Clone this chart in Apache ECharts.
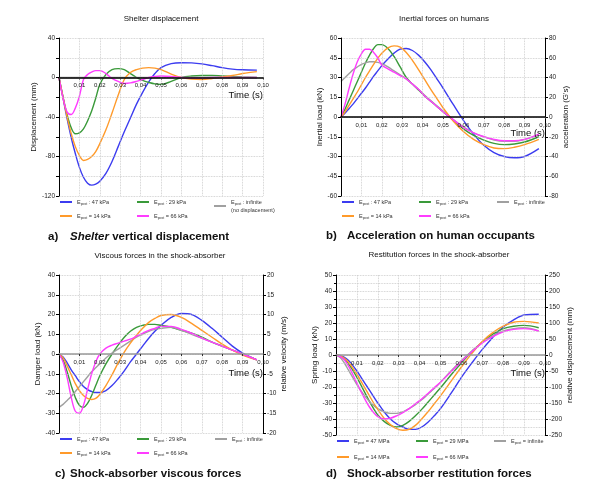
<!DOCTYPE html>
<html><head><meta charset="utf-8">
<script src="https://cdn.jsdelivr.net/npm/echarts@6/dist/echarts.min.js"></script>
<style>html,body{margin:0;padding:0;background:#fff}#c{width:608px;height:492px}</style>
</head><body><div id="c"></div>
<script>
// ---- time samples (s) ----
const times = [0,0.002,0.004,0.006,0.008,0.010,0.012,0.014,0.016,0.018,0.020,0.023,0.026,0.029,0.032,0.035,0.038,0.041,0.044,0.047,0.050,0.055,0.060,0.065,0.070,0.075,0.080,0.085,0.090,0.097];

// ---- a) Shelter displacement (mm) ----
const dispA_47  = [0,-21,-42,-61,-77,-91,-101,-107,-109,-108,-105,-97,-85,-70,-55,-41,-27,-15,-4.5,4,10,14,15,14.8,13.8,12,10,8.5,7.8,7.5];
const dispA_29  = [0,-20,-38,-51,-57,-56,-52,-44,-34,-21,-7,3,8,9,8,4,0,-3,-5,-6.5,-7,-4,0,1.5,2,2,1.5,1,0.5,0];
const dispA_inf = [0,0,0,0,0,0,0,0,0,0,0,0,0,0,0,0,0,0,0,0,0,0,0,0,0,0,0,0,0,0];
const dispA_14  = [0,-20.5,-40,-57,-70,-79,-84,-83,-80,-75,-67,-53,-36,-18,-2,5,8,9.5,10,9.5,8,3.5,0,-1.5,-2,-1,0.5,2,4,6];
const dispA_66  = [0,-21,-35,-37.5,-31,-19,-2,3,5.5,7,7,4,-1,-4,-6,-5.5,-4,-2,0,1,1.5,1,0,-0.5,-0.5,0,0,0,0,0];

// ---- b) Inertial forces on humans (kN) ----
const inertB_47  = [0,3,6.5,10,14,18,22,26.5,31,35,39,44,48.5,51.5,52,50.5,47,42,36,29,22,9.5,-2.5,-13,-21.5,-27,-30,-31,-30,-24];
const inertB_29  = [0,6,13,20,27,34,41,47,52,55,55,52,46,38,30,25,20.5,16,12,8,4,-2.5,-9,-14,-17.5,-20,-21,-20.5,-19,-15];
const inertB_inf = [27,30,33,36,38,40,41,42,42,41.5,40.5,38,35,32,29,25,21,16.5,12.5,8.5,4.5,-2,-7.5,-12,-15,-17.5,-18.5,-18.5,-17,-14];
const inertB_14  = [0,4,9,14,19,24.5,30,35,40,44.5,48.5,52.5,54,53,49,43,36,28.5,21,14,7,-3,-11,-17,-21,-23.5,-24,-23,-21,-17];
const inertB_66  = [0,10,22,33,42,48,51.5,51.5,49,45,39.5,36.5,34,31.5,29,25,21,16,12,8,4,-2,-8,-12,-15,-17,-18,-18,-17,-13];

// ---- c) Viscous forces in the shock-absorber (kN) ----
const viscC_47  = [0,-1.5,-4.5,-8,-11,-14,-16.5,-18,-19,-19.5,-19.5,-18.5,-16,-12.5,-8.5,-4,0,4,8,11.5,14.5,18.5,20.5,20,17,13,8.5,4,0.5,-3];
const viscC_29  = [0,-3,-9,-16,-22,-26,-27,-25,-21,-16,-11,-5,0,4.5,8.5,11.5,13.5,14.5,15,15,14.5,13.5,12,10.5,8.5,6,4,2,0,-3];
const viscC_inf = [-27,-25.5,-23.5,-21.5,-19,-16.5,-14,-11.5,-9,-7,-5,-2,0.5,2.5,4.5,6.5,8.5,10,11.5,12.5,13,13.5,12,10,8,6,4,2,0,-3];
const viscC_14  = [0,-2,-6,-10.5,-15,-18.5,-21,-22.5,-23,-22.5,-20.5,-16,-10.5,-4.5,1,5.5,9.5,13,16,18,19.5,20,18.5,15.5,12,8.5,5,2,-0.5,-3];
const viscC_66  = [0,-4,-12,-22,-29,-30,-26,-18,-10,-4,0,3,4.5,5.5,6.5,7.5,9,10.5,12,13,14,14,12.5,10.5,8,6,4,2,0,-3];

// ---- d) Restitution forces in the shock-absorber (kN) ----
const springD_47  = [0,-0.3,-1.5,-3.5,-6.5,-10,-14,-18,-22,-26,-30,-35.5,-40,-43,-45,-46.5,-46.5,-45,-42,-38,-33.5,-24,-14,-5,3.5,11,17.5,22,25,25.5];
const springD_29  = [0,-0.8,-2.5,-5.5,-9.5,-14,-19,-24,-29,-33.5,-37.5,-41.5,-44,-45,-44,-41.5,-38,-34,-29.5,-25,-20.5,-12.5,-5,2,8,13,16.5,18,18.5,17];
const springD_inf = [0,-1.5,-5,-9.5,-14,-18.5,-22.5,-26,-29,-31.5,-33.5,-35.5,-36.5,-36.5,-35.5,-33.5,-31,-28,-24.5,-21,-17,-10,-3.5,2.5,8,12,15,16.5,17,15];
const springD_14  = [0,-0.5,-2,-4.5,-8,-12,-16.5,-21,-25.5,-30,-34,-39.5,-43.5,-46,-47,-46.5,-44,-40,-35.5,-30.5,-25.5,-16.5,-7.5,1,8.5,14,18,20.5,21,20];
const springD_66  = [0,-1,-3,-7,-12,-17.5,-23,-28,-32.5,-36,-38.5,-40,-39.5,-38,-36,-33.5,-30.5,-27.5,-24,-20.5,-17,-10.5,-4,2,7.5,11.5,14.5,16,16.5,15];

// ---- labels ----
const seriesKeys = ['E47','E29','Einf','E14','E66'];
const legendA = [': 47 kPa', ': 29 kPa', ': infinite', '= 14 kPa', '= 66 kPa'];
const legendB = [': 47 kPa', ': 29 kPa', ': infinite', '= 14 kPa', '= 66 kPa'];
const legendC = [': 47 kPa', ': 29 kPa', ': infinite', '= 14 kPa', '= 66 kPa'];
const legendD = ['= 47 MPa', '= 29 MPa', '= infinite', '= 14 MPa', '= 66 MPa'];
const panelTitles = ['Shelter displacement', 'Inertial forces on humans', 'Viscous forces in the shock-absorber', 'Restitution forces in the shock-absorber'];
const leftNames = ['Displacement (mm)', 'Inertial load (kN)', 'Damper load (kN)', 'Spring load (kN)'];
const rightNames = [null, "acceleration (G's)", 'relative velocity (m/s)', 'relative displacement (mm)'];
const leftRanges = [[-120, 40, 20], [-60, 60, 15], [-40, 40, 10], [-50, 50, 10]];

const FONT = '"Liberation Sans", Arial, sans-serif';
const colors = {E47:'#3c3cf0', E29:'#3a9a3a', Einf:'#a0a0a0', E14:'#ff9a2a', E66:'#ff3cff'};

const panelData = [
  [dispA_47, dispA_29, dispA_inf, dispA_14, dispA_66],
  [inertB_47, inertB_29, inertB_inf, inertB_14, inertB_66],
  [viscC_47, viscC_29, viscC_inf, viscC_14, viscC_66],
  [springD_47, springD_29, springD_inf, springD_14, springD_66]
];
const legendTexts = [legendA, legendB, legendC, legendD];

const grids = [
  {left:59, top:38, width:204, height:158},
  {left:341, top:38, width:204, height:158},
  {left:59, top:275, width:204, height:158},
  {left:336, top:275, width:209, height:160}
];
const timeNamePad = [13, 11, 14, 13];
const zeroColor = ['#000', '#000', '#999', '#999'];

const dotted = {show:true, lineStyle:{type:'dotted', color:'#c4c4c4', width:0.8}};

// x axis drawn through y = 0 of the left axis (offset from grid bottom)
const xAxes = grids.map((g, i) => {
  const r = leftRanges[i];
  const zeroOffset = -(0 - r[0]) / (r[1] - r[0]) * g.height;
  return {
    type:'value', gridIndex:i, min:0, max:0.1, interval:0.01, z:10,
    position:'bottom', offset: zeroOffset,
    axisLine:{show:true, onZero:false, lineStyle:{color:zeroColor[i], width:1.5}},
    axisTick:{show:true, length:2, lineStyle:{color:'#333'}},
    axisLabel:{fontSize:6, margin:5, color:'#222', fontFamily:FONT, showMinLabel:true, showMaxLabel:true,
      formatter: v => v === 0 ? '' : v.toFixed(2).replace('.', ',')},
    splitLine:dotted,
    name:'Time (s)', nameLocation:'end', nameGap:0,
    nameTextStyle:{fontSize:9.5, fontFamily:FONT, color:'#111', align:'right', verticalAlign:'top', padding:[timeNamePad[i],0,0,0]}
  };
});

function yAx(grid, min, max, interval, name, gap, right, fmt, minor) {
  const o = {
    type:'value', gridIndex:grid, min:min, max:max, interval:interval,
    position: right ? 'right' : 'left', z:10,
    axisLine:{show:true, onZero:false, lineStyle:{color:'#000', width:1}},
    axisTick:{show:true, length:3, inside:false, lineStyle:{color:'#000'}},
    axisLabel:{fontSize:6.5, margin:4, color:'#222', fontFamily:FONT, showMinLabel:true, showMaxLabel:true,
      formatter: fmt || (v => String(v))},
    splitLine: right ? {show:false} : dotted,
    name:name, nameLocation:'middle', nameGap:gap,
    nameTextStyle:{fontSize:8, fontFamily:FONT, color:'#111'}
  };
  if (minor) {
    o.minorTick = {show:true, splitNumber:2, length:2};
    o.minorSplitLine = {show:true, lineStyle:{type:'dotted', color:'#c4c4c4', width:0.8}};
  }
  return o;
}
const yAxes = [
  yAx(0, leftRanges[0][0], leftRanges[0][1], leftRanges[0][2], leftNames[0], 20, false, v => (v % 40 === 0 ? String(v) : '')),
  yAx(1, leftRanges[1][0], leftRanges[1][1], leftRanges[1][2], leftNames[1], 17, false),
  yAx(1, -80, 80, 20, rightNames[1], 17, true),
  yAx(2, leftRanges[2][0], leftRanges[2][1], leftRanges[2][2], leftNames[2], 17, false),
  yAx(2, -20, 20, 5, rightNames[2], 17, true),
  yAx(3, leftRanges[3][0], leftRanges[3][1], leftRanges[3][2], leftNames[3], 15, false, null, true),
  yAx(3, -250, 250, 50, rightNames[3], 19, true)
];
const leftY = [0, 1, 3, 5];

const series = [];
panelData.forEach((arrs, p) => {
  arrs.forEach((arr, k) => {
    const key = seriesKeys[k];
    series.push({
      type:'line', name:key, xAxisIndex:p, yAxisIndex:leftY[p],
      data: times.map((t, j) => [t, arr[j]]),
      symbol:'none', showSymbol:false, smooth:0.35,
      lineStyle:{width:1.4, color:colors[key]}, itemStyle:{color:colors[key]},
      z: 3 + k
    });
  });
});

const legendCols = [[60,137,214],[342,419,497],[60,137,215],[337,416,494]];
const legendRows = [[200,214],[200,214],[437,451],[439,455]];
const legends = [];
legendTexts.forEach((txts, p) => {
  seriesKeys.forEach((key, k) => {
    const col = k < 3 ? k : k - 3;
    const row = k < 3 ? 0 : 1;
    let label = '{e|E}{s|post}{t| ' + txts[k] + '}';
    if (p === 0 && k === 2) label += '\n{t|(no displacement)}';
    legends.push({
      data:[{name:key, icon:'rect'}], left:legendCols[p][col], top:legendRows[p][row] - 1,
      itemWidth:12, itemHeight:2, padding:0, selectedMode:false,
      formatter: () => label,
      textStyle:{fontSize:5.5, fontFamily:FONT, color:'#333',
        rich:{e:{fontSize:5.5, color:'#333', lineHeight:8, fontFamily:FONT},
              s:{fontSize:3.5, color:'#333', verticalAlign:'bottom', lineHeight:8, fontFamily:FONT},
              t:{fontSize:5.5, color:'#333', lineHeight:8, fontFamily:FONT}}}
    });
  });
});

const titlePos = [[161,19],[444,19],[160,256],[439,255]];
const graphics = [];
panelTitles.forEach((t, i) => {
  graphics.push({type:'text', x:titlePos[i][0], y:titlePos[i][1],
    style:{text:t, fontSize:8, fontFamily:FONT, fill:'#111', align:'center', verticalAlign:'middle'}});
});
const subLetters = ['a)','b)','c)','d)'];
const subPos = [[48,70,237],[326,347,236],[55,70,474],[326,347,474]];
const subBodies = [null, 'Acceleration on human occupants', 'Shock-absorber viscous forces', 'Shock-absorber restitution forces'];
subLetters.forEach((L, i) => {
  graphics.push({type:'text', x:subPos[i][0], y:subPos[i][2],
    style:{text:L, fontSize:11.5, fontWeight:'bold', fontFamily:FONT, fill:'#111', verticalAlign:'middle'}});
  if (i === 0) {
    graphics.push({type:'text', x:subPos[i][1], y:subPos[i][2],
      style:{text:'{bi|Shelter}{b| vertical displacement}', verticalAlign:'middle', fontFamily:FONT,
        rich:{bi:{fontSize:11.5, fontWeight:'bold', fontStyle:'italic', fontFamily:FONT, fill:'#111'},
              b:{fontSize:11.5, fontWeight:'bold', fontFamily:FONT, fill:'#111'}}}});
  } else {
    graphics.push({type:'text', x:subPos[i][1], y:subPos[i][2],
      style:{text:subBodies[i], fontSize:11.5, fontWeight:'bold', fontFamily:FONT, fill:'#111', verticalAlign:'middle'}});
  }
});

const chart = echarts.init(document.getElementById('c'), null, {renderer:'canvas'});
chart.setOption({
  animation:false,
  backgroundColor:'#fff',
  textStyle:{fontFamily:FONT},
  grid: grids.map(g => Object.assign({containLabel:false, outerBoundsMode:'none'}, g)),
  xAxis: xAxes,
  yAxis: yAxes,
  legend: legends,
  series: series,
  graphic: graphics
});
</script>
</body></html>
